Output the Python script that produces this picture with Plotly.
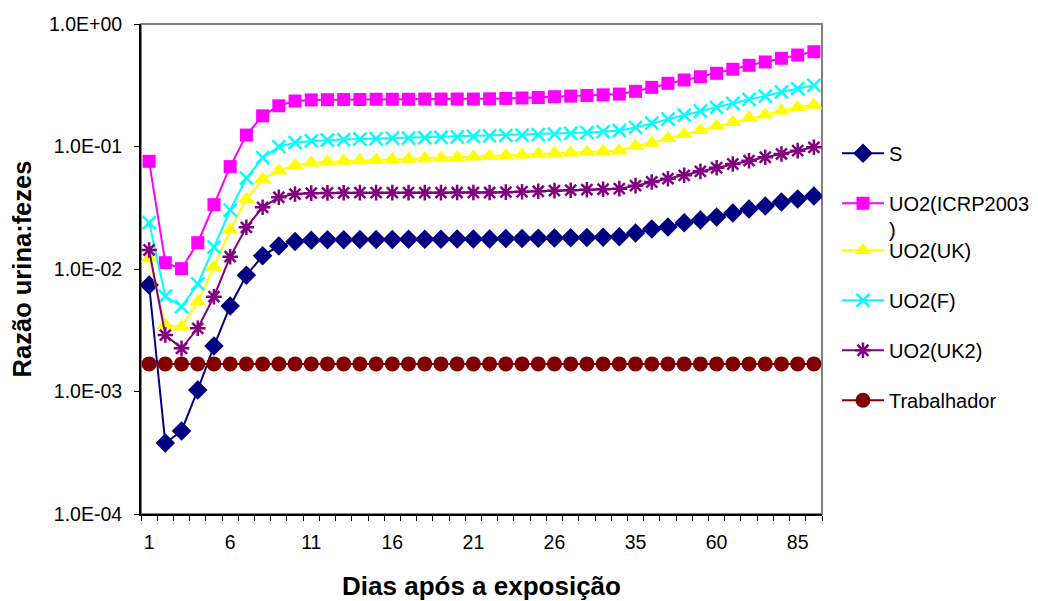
import plotly.graph_objects as go

days = [str(d) for d in list(range(1, 31)) + list(range(35, 95, 5))]
tick_every = 5
tick_text = [d if i % tick_every == 0 else "" for i, d in enumerate(days)]

s_vals = [7.4e-3, 3.8e-4, 4.76e-4, 1.03e-3, 2.35e-3, 4.99e-3, 8.9e-3, 0.0128, 0.0154, 0.0168,
          0.0172, 0.0173, 0.0173, 0.0174, 0.0174, 0.0174, 0.0175, 0.0175, 0.0175, 0.0176,
          0.0176, 0.0176, 0.0177, 0.0177, 0.0178, 0.0179, 0.0180, 0.0181, 0.0182, 0.0183,
          0.0197, 0.0212, 0.0220, 0.0238, 0.0251, 0.0266, 0.0286, 0.0309, 0.0327, 0.0352,
          0.0373, 0.0394]
icrp_vals = [0.0757, 0.01126, 0.01006, 0.0164, 0.0335, 0.0685, 0.124, 0.178, 0.215, 0.235,
             0.240, 0.241, 0.242, 0.242, 0.243, 0.243, 0.243, 0.244, 0.244, 0.244,
             0.244, 0.245, 0.247, 0.249, 0.251, 0.255, 0.258, 0.261, 0.264, 0.268,
             0.282, 0.304, 0.328, 0.349, 0.371, 0.396, 0.427, 0.460, 0.490, 0.525,
             0.558, 0.594]
uk_vals = [0.0122, 3.49e-3, 3.38e-3, 5.41e-3, 0.0104, 0.0208, 0.0371, 0.054, 0.0635, 0.0703,
           0.0738, 0.0750, 0.0760, 0.0768, 0.0775, 0.0782, 0.0790, 0.0798, 0.0806, 0.0815,
           0.0825, 0.0836, 0.0846, 0.0857, 0.0868, 0.0880, 0.0891, 0.0902, 0.0913, 0.0925,
           0.101, 0.107, 0.117, 0.126, 0.136, 0.147, 0.158, 0.171, 0.182, 0.196,
           0.209, 0.218]
f_vals = [0.0239, 6.0e-3, 4.92e-3, 7.55e-3, 0.0151, 0.0303, 0.0551, 0.0811, 0.0997, 0.1075,
          0.111, 0.113, 0.114, 0.115, 0.116, 0.117, 0.117, 0.118, 0.119, 0.120,
          0.121, 0.122, 0.123, 0.124, 0.125, 0.126, 0.128, 0.130, 0.132, 0.135,
          0.143, 0.155, 0.167, 0.180, 0.194, 0.209, 0.225, 0.243, 0.258, 0.279,
          0.297, 0.316]
uk2_vals = [0.0143, 2.89e-3, 2.25e-3, 3.28e-3, 5.94e-3, 0.0126, 0.0219, 0.0319, 0.0385, 0.0409,
            0.0416, 0.0418, 0.0419, 0.0420, 0.0420, 0.0420, 0.0420, 0.0420, 0.0420, 0.0421,
            0.0421, 0.0421, 0.0424, 0.0427, 0.0431, 0.0436, 0.0440, 0.0444, 0.0448, 0.0453,
            0.0479, 0.0513, 0.0546, 0.0582, 0.0627, 0.0671, 0.0720, 0.0766, 0.0817, 0.0869,
            0.0925, 0.0985]
trab_vals = [1.68e-3] * len(days)

y_tickvals = [1e-4, 1e-3, 1e-2, 1e-1, 1]
y_ticktext = ["1.0E-04", "1.0E-03", "1.0E-02", "1.0E-01", "1.0E+00"]

series = [
    ("S", s_vals, "#000080", dict(symbol="diamond", size=15), "legend"),
    ("UO2(ICRP2003<br>)", icrp_vals, "#FF00FF", dict(symbol="square", size=13), "legend"),
    ("UO2(UK)", uk_vals, "#FFFF00", dict(symbol="triangle-up", size=15), "legend2"),
    ("UO2(F)", f_vals, "#00FFFF", dict(symbol="x-thin-open", size=13, line=dict(width=2.5, color="#00FFFF")), "legend2"),
    ("UO2(UK2)", uk2_vals, "#800080", dict(symbol="asterisk-open", size=13, line=dict(width=2.5, color="#800080")), "legend2"),
    ("Trabalhador", trab_vals, "#800000", dict(symbol="circle", size=15), "legend2"),
]

fig = go.Figure()
for i, (name, vals, color, marker, lg) in enumerate(series):
    marker = dict(marker)
    marker["color"] = color
    fig.add_trace(go.Scatter(
        x=days, y=vals, name=name, mode="lines+markers",
        line=dict(color=color, width=2), marker=marker,
        legend=lg, legendgroup=f"g{i}",
    ))

font_family = "Liberation Sans, Arial, sans-serif"

fig.update_layout(
    width=1038, height=601,
    margin=dict(l=141, r=216, t=24, b=87, autoexpand=False),
    paper_bgcolor="white", plot_bgcolor="white",
    font=dict(family=font_family, size=20, color="black"),
    xaxis=dict(
        type="category", categoryorder="array", categoryarray=days,
        range=[-0.5, len(days) - 0.5],
        tickmode="array", tickvals=days, ticktext=tick_text, tickangle=0,
        tickson="boundaries", ticks="outside", ticklen=5, tickcolor="black",
        ticklabelstandoff=10,
        showline=True, linecolor="black", linewidth=2, mirror=False,
        showgrid=False, zeroline=False,
        tickfont=dict(size=19.5),
        title=dict(text="<b>Dias após a exposição</b>", font=dict(size=26), standoff=24),
    ),
    yaxis=dict(
        type="log", range=[-4, 0],
        tickmode="array", tickvals=y_tickvals, ticktext=y_ticktext,
        ticks="outside", ticklen=5, tickcolor="black",
        ticklabelstandoff=8,
        showline=True, linecolor="black", linewidth=2,
        showgrid=False, zeroline=False,
        tickfont=dict(size=19.5),
        title=dict(text="<b>Razão urina:fezes</b>", font=dict(size=25.5), standoff=10),
    ),
    legend=dict(
        x=1.022, xanchor="left", y=0.776, yanchor="top",
        font=dict(size=20), tracegroupgap=21, valign="top", itemwidth=42,
        bgcolor="rgba(0,0,0,0)",
    ),
    legend2=dict(
        x=1.022, xanchor="left", y=0.578, yanchor="top",
        font=dict(size=20), tracegroupgap=21, valign="top", itemwidth=42,
        bgcolor="rgba(0,0,0,0)",
    ),
    shapes=[dict(type="rect", xref="paper", yref="paper", x0=0, x1=1, y0=0, y1=1,
                 line=dict(color="#808080", width=2), layer="below")],
)

fig.write_html("out.html")
